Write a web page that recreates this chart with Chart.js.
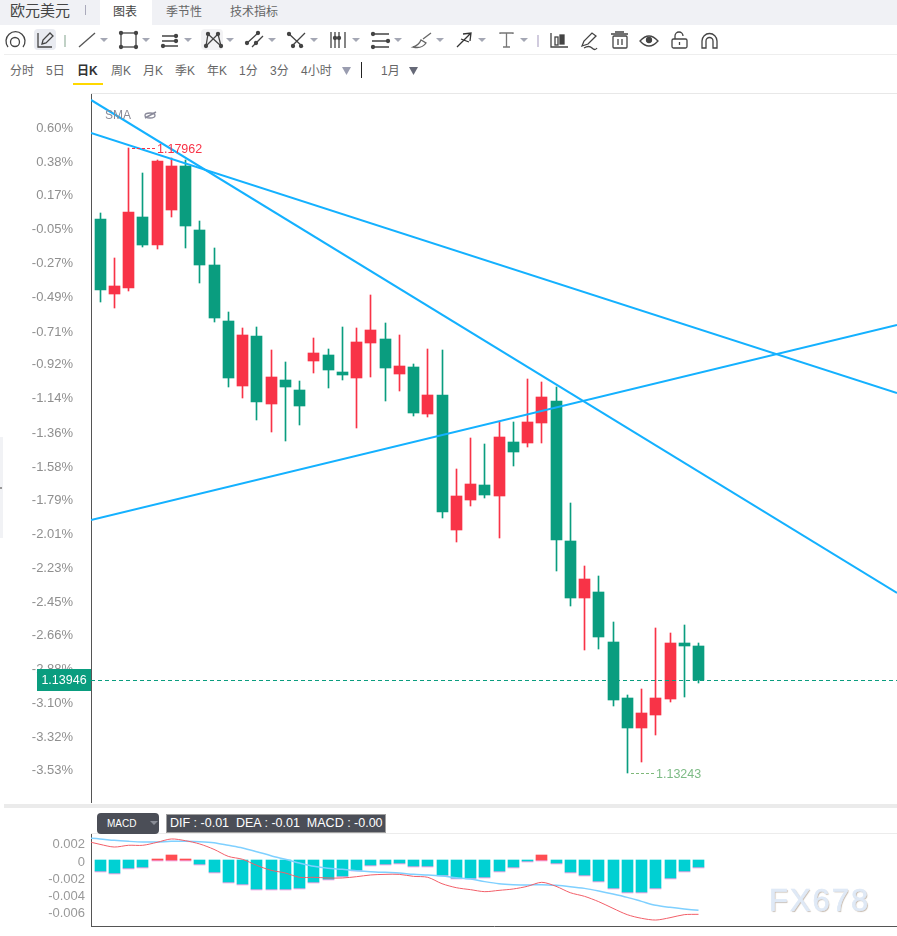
<!DOCTYPE html>
<html>
<head>
<meta charset="utf-8">
<title>欧元美元</title>
<script src="https://cdn.jsdelivr.net/npm/chart.js"></script>
<style>
  html, body { margin: 0; padding: 0; background: #fff; }
  body { width: 897px; height: 936px; position: relative; overflow: hidden; font-family: "Liberation Sans", "Noto Sans CJK SC", sans-serif; color: #666; }
  canvas { position: absolute; left: 0; display: block; }
  .abs { position: absolute; white-space: nowrap; }
  #topbar { position: absolute; left: 0; top: 0; width: 897px; height: 25px; background: #f0f1f5; }
  #tab-active { position: absolute; left: 100px; top: 0; width: 52px; height: 25px; background: #fff; }
  .tab { font-size: 12px; line-height: 25px; top: 0; color: #666; }
  .period { font-size: 12px; line-height: 16px; top: 63px; color: #666; }
  #chip { left: 97px; top: 813px; width: 62px; height: 21px; background: #4b4e57; border-radius: 4px; color: #fff; font-size: 10px; line-height: 21px; text-indent: 10px; }
  #info { left: 166px; top: 814px; width: 218px; height: 17px; background: #4b4e57; border: 1px solid #a0a0a0; color: #fff; font-size: 12.5px; line-height: 17px; text-indent: 3px; white-space: pre; }
  #mark { left: 769px; top: 883px; font: 31px "Liberation Sans", sans-serif; letter-spacing: 2px; color: #dfe9f6; -webkit-text-stroke: 0.7px #dfe9f6; text-shadow: 1px 1px 1px #c4b7aa; }
</style>
</head>
<body>
<div id="topbar"></div>
<div id="tab-active"></div>
<div class="abs" style="left:10px;top:0;font-size:15px;line-height:21px;color:#444">欧元美元</div>
<div class="abs" style="left:85px;top:5px;width:1px;height:10px;background:#aab"></div>
<div class="abs tab" style="left:113px;color:#444">图表</div>
<div class="abs tab" style="left:166px">季节性</div>
<div class="abs tab" style="left:230px">技术指标</div>

<div class="abs" style="left:4px;top:54px;width:893px;height:1px;background:#eee"></div>
<div class="abs" style="left:91px;top:93px;width:806px;height:1px;background:#e8e8e8"></div>

<div class="abs period" style="left:10px">分时</div>
<div class="abs period" style="left:46px">5日</div>
<div class="abs period" style="left:77px;font-weight:bold;color:#333">日K</div>
<div class="abs" style="left:73px;top:83px;width:30px;height:2px;background:#ffd800"></div>
<div class="abs period" style="left:111px">周K</div>
<div class="abs period" style="left:143px">月K</div>
<div class="abs period" style="left:175px">季K</div>
<div class="abs period" style="left:207px">年K</div>
<div class="abs period" style="left:239px">1分</div>
<div class="abs period" style="left:270px">3分</div>
<div class="abs period" style="left:301px">4小时</div>
<div class="abs" style="left:361px;top:62px;width:1px;height:16px;background:#222"></div>
<div class="abs period" style="left:381px">1月</div>

<!-- toolbar icons -->
<svg id="icons" class="abs" style="left:0;top:0" width="897" height="130" fill="none" stroke="#444" stroke-width="1.3">
  <path d="M8 47a9.500 9.500 0 1 1 15 0"/><circle cx="15" cy="42" r="4.500"/>
  <rect x="34" y="29" width="22" height="21" rx="4" fill="#e9ebf1" stroke="none"/>
  <path d="M38 33v14h14M42 44l1-4 7-7 3 3-7 7z"/>
  <path d="M65 35v12" stroke="#9fb8a8"/>
  <path d="M79 47L95 33" stroke="#555"/>
  <rect x="121" y="33" width="15" height="14"/>
  <circle cx="121" cy="33" r="1.500" fill="#444"/><circle cx="136" cy="33" r="1.500" fill="#444"/><circle cx="121" cy="47" r="1.500" fill="#444"/><circle cx="136" cy="47" r="1.500" fill="#444"/>
  <path d="M162 36h16M162 41h16M162 46h16"/>
  <circle cx="176" cy="36" r="1.500" fill="#444"/><circle cx="176" cy="41" r="1.500" fill="#444"/><circle cx="163" cy="46" r="1.500" fill="#444"/>
  <rect x="201" y="29" width="22" height="21" rx="4" fill="#f2f2f4" stroke="none"/>
  <path d="M206 46L208 34 221 46 218 34 206 46"/>
  <circle cx="208" cy="34" r="1.500" fill="#444"/><circle cx="218" cy="34" r="1.500" fill="#444"/><circle cx="206" cy="46" r="1.500" fill="#444"/><circle cx="221" cy="46" r="1.500" fill="#444"/>
  <path d="M246 44L258 33M252 47L263 36"/>
  <circle cx="247" cy="43" r="1.500" fill="#444"/><circle cx="258" cy="33" r="1.500" fill="#444"/><circle cx="256" cy="43" r="1.500" fill="#444"/>
  <path d="M288 33L303 47M292 46L305 33"/>
  <circle cx="289" cy="34" r="1.500" fill="#444"/><circle cx="293" cy="46" r="1.500" fill="#444"/><circle cx="301" cy="46" r="1.500" fill="#444"/>
  <path d="M331 32v16M335 32v16M339 32v16M345 32v16"/>
  <circle cx="335" cy="38" r="1.500" fill="#444"/><circle cx="339" cy="38" r="1.500" fill="#444"/>
  <path d="M372 34h17M372 41h17M372 47h17"/>
  <circle cx="373" cy="34" r="1.500" fill="#444"/><circle cx="373" cy="47" r="1.500" fill="#444"/><circle cx="388" cy="41" r="1.500" fill="#444"/>
  <path d="M413 47q6-2 8-7l5 3q-4 6-13 4zM423 39L431 33" stroke="#666"/>
  <path d="M457 47L471 33M463 34L471 33 470 41M461 39L469 42" stroke="#333"/>
  <path d="M500 34v-1h13v1M506.500 33v14M503 47h7" stroke="#777"/>
  <path d="M538 35v12" stroke="#b9b0cc"/>
  <path d="M551 33v14h17"/><rect x="555" y="37" width="3" height="8"/><rect x="560" y="35" width="4" height="9" fill="#444"/>
  <path d="M582 46l2-5 8-8 4 3-8 8zM584 48q5-3 8 0t5 0"/>
  <path d="M611 34h17M615 32h9M618 39v6M622 39v6"/><rect x="613" y="36" width="14" height="12" rx="1"/>
  <path d="M640 41q9-10 18 0q-9 10-18 0z"/><circle cx="649" cy="40" r="2.500" fill="#444"/>
  <rect x="672" y="39" width="15" height="9" rx="1.500"/><path d="M675 39v-3a4 4 0 0 1 8 0M679.500 42v3"/>
  <path d="M702 48v-7a7.500 7.500 0 0 1 15 0v7h-4v-7a3.500 3.500 0 0 0-7 0v7z"/>
  <ellipse cx="150" cy="115.500" rx="5" ry="2.500" stroke="#8a8a9a"/><path d="M145 118L156 112" stroke="#8a8a9a" stroke-width="1.500"/>
</svg>

<div class="abs" style="left:0;top:437px;width:3px;height:101px;background:#f1f2f5"></div>
<div class="abs" style="left:0;top:487px;width:2px;height:2px;background:#999"></div>

<canvas id="kline" width="897" height="709" style="top:94px"></canvas>
<div class="abs" style="left:105px;top:108px;font-size:12px;line-height:14px;color:#8a8a96">SMA</div>

<div class="abs" style="left:4px;top:804px;width:893px;height:4px;background:#ebebeb"></div>
<div class="abs" style="left:91px;top:833px;width:806px;height:1px;background:#ececec"></div>
<canvas id="macd" width="897" height="93" style="top:834px"></canvas>
<div class="abs" id="chip">MACD</div>
<svg class="abs" style="left:150px;top:821px" width="8" height="5"><path d="M0 0h8L4 4z" fill="#8a8d96"/></svg>
<div class="abs" id="info">DIF : -0.01  DEA : -0.01  MACD : -0.00</div>
<div class="abs" id="mark">FX678</div>

<script>
// Daily candles, oldest first. Red closes above its open, green below.
const opens = [1.17425, 1.16859, 1.16904, 1.17440, 1.17229, 1.17493, 1.17825, 1.17342, 1.17078, 1.16655, 1.16164, 1.16541, 1.16028, 1.16209, 1.16134, 1.16353, 1.16398, 1.16270, 1.16224, 1.16489, 1.16519, 1.16254, 1.16307, 1.15952, 1.16096, 1.15076, 1.15303, 1.15416, 1.15333, 1.15741, 1.15733, 1.15884, 1.16050, 1.14993, 1.14563, 1.14608, 1.14230, 1.13807, 1.13581, 1.13679, 1.13800, 1.14223, 1.14200];
const closes = [1.16889, 1.16919, 1.17478, 1.17229, 1.17863, 1.17825, 1.17372, 1.17078, 1.16677, 1.16224, 1.16549, 1.16043, 1.16232, 1.16156, 1.16013, 1.16413, 1.16285, 1.16247, 1.16496, 1.16587, 1.16300, 1.16315, 1.15960, 1.16096, 1.15212, 1.15333, 1.15424, 1.15341, 1.15779, 1.15665, 1.15892, 1.16081, 1.15001, 1.14563, 1.14704, 1.14268, 1.13792, 1.13581, 1.13694, 1.13807, 1.14223, 1.14200, 1.13946];
const highs  = [1.17470, 1.17131, 1.17962, 1.17773, 1.17871, 1.17886, 1.17871, 1.17410, 1.17206, 1.16723, 1.16602, 1.16609, 1.16436, 1.16345, 1.16202, 1.16526, 1.16443, 1.16609, 1.16602, 1.16851, 1.16640, 1.16549, 1.16330, 1.16443, 1.16436, 1.15537, 1.15771, 1.15726, 1.15892, 1.15892, 1.16217, 1.16194, 1.16156, 1.15280, 1.14804, 1.14729, 1.14381, 1.13830, 1.13875, 1.14336, 1.14298, 1.14359, 1.14223];
const lows   = [1.16798, 1.16753, 1.16881, 1.17214, 1.17199, 1.17440, 1.17206, 1.16942, 1.16647, 1.16156, 1.16073, 1.15907, 1.15816, 1.15748, 1.15869, 1.16262, 1.16149, 1.16209, 1.15847, 1.16232, 1.16050, 1.16126, 1.15937, 1.15930, 1.15167, 1.14986, 1.15257, 1.15318, 1.15016, 1.15560, 1.15703, 1.15733, 1.14766, 1.14502, 1.14170, 1.14177, 1.13747, 1.13243, 1.13324, 1.13528, 1.13777, 1.13815, 1.13921];

// Change against the previous close, shown on the price axis.
const basePrice = 1.17416;
const pctLabels = ['0.60%', '0.38%', '0.17%', '-0.05%', '-0.27%', '-0.49%', '-0.71%', '-0.92%', '-1.14%', '-1.36%', '-1.58%', '-1.79%', '-2.01%', '-2.23%', '-2.45%', '-2.66%', '-2.88%', '-3.10%', '-3.32%', '-3.53%'];

// Hand drawn trend lines: [start price, end price] across the plot.
const trendA = [1.18324, 1.14600];
const trendB = [1.18075, 1.16111];
const trendC = [1.15152, 1.16624];

// MACD pane. First line value sits one bar before the first candle.
const macdTicks = [0.002, 0, -0.002, -0.004, -0.006];
const macdHist = [-0.00127, -0.0015, -0.00092, -0.00081, 0.00012, 0.00058, 0.00012, -0.00046, -0.00139, -0.00254, -0.00277, -0.00335, -0.00335, -0.00335, -0.00324, -0.00254, -0.0022, -0.00185, -0.00116, -0.00058, -0.00046, -0.00035, -0.00069, -0.00069, -0.00173, -0.00208, -0.00208, -0.00197, -0.00127, -0.00081, -0.00012, 0.00058, -0.00035, -0.00139, -0.00173, -0.00243, -0.00324, -0.0037, -0.0037, -0.00324, -0.00208, -0.00127, -0.00081];
const difLine = [0.0022, 0.00181, 0.0015, 0.0017, 0.0017, 0.00204, 0.00243, 0.00223, 0.00185, 0.00123, 0.00042, 0.00008, -0.00062, -0.00119, -0.0015, -0.002, -0.002, -0.00208, -0.00208, -0.00193, -0.00173, -0.00166, -0.00166, -0.00189, -0.002, -0.00274, -0.0032, -0.00343, -0.00366, -0.00351, -0.00335, -0.00304, -0.00258, -0.00304, -0.00378, -0.0042, -0.00482, -0.00559, -0.00632, -0.00674, -0.00694, -0.00667, -0.00632, -0.00628];
const deaLine = [0.00254, 0.00243, 0.00227, 0.00216, 0.00208, 0.00208, 0.00216, 0.00216, 0.00212, 0.002, 0.0017, 0.00139, 0.00096, 0.0005, 0.00008, -0.00035, -0.00073, -0.00096, -0.00108, -0.00123, -0.00135, -0.00143, -0.0015, -0.00166, -0.00173, -0.00185, -0.00204, -0.0022, -0.0025, -0.00274, -0.00285, -0.00289, -0.00285, -0.00293, -0.00308, -0.00328, -0.00358, -0.00393, -0.00432, -0.00478, -0.00524, -0.00547, -0.00566, -0.00582];

const RED = '#f83347';
const GREEN = '#0a9d7f';
const BLUE = '#14b1ff';
const FONT = '"Liberation Sans", sans-serif';
const XMIN = -0.6323;
const XMAX = 55.93;

// toolbar dropdown carets
const caretsLeft = [100, 142, 184, 226, 268, 310, 352, 394, 436, 478, 520];
const icons = document.getElementById('icons');
let carets = caretsLeft.map(x => `<path d="M${x} 38h8l-4 4z" fill="#a4a7b4" stroke="none"/>`).join('');
carets += '<path d="M342 67h9l-4.500 8z" fill="#9a9db0" stroke="none"/><path d="M409 67h9l-4.500 8z" fill="#666977" stroke="none"/>';
icons.insertAdjacentHTML('beforeend', carets);

// Candles, histogram and the last price line land on whole pixels.
const snapBars = {
  id: 'snapBars',
  beforeDatasetsDraw(chart) {
    chart.getSortedVisibleDatasetMetas().forEach(meta => {
      if (meta.type === 'line' && meta._dataset.snapY) {
        meta.data.forEach(el => { el.y = Math.round(el.y) + 0.5; });
      }
      if (meta.type !== 'bar') return;
      meta.data.forEach(el => {
        el.x = Math.floor(el.x) + 0.5;
        el.y = Math.round(el.y);
        el.base = Math.round(el.base);
      });
    });
  }
};

// Highest and lowest price tags plus the last price box.
const priceTags = {
  id: 'priceTags',
  afterDraw(chart) {
    const { ctx, scales: { x, y } } = chart;
    const hi = Math.max(...highs);
    const lo = Math.min(...lows);
    const last = closes[closes.length - 1];

    const tag = (price, idx, color, textColor) => {
      const py = Math.round(y.getPixelForValue(price)) + 0.5;
      const px = Math.floor(x.getPixelForValue(idx));
      ctx.save();
      ctx.strokeStyle = color;
      ctx.setLineDash([3, 2]);
      ctx.beginPath();
      ctx.moveTo(px + 4, py);
      ctx.lineTo(px + 29, py);
      ctx.stroke();
      ctx.setLineDash([]);
      ctx.fillStyle = textColor;
      ctx.font = '12.5px ' + FONT;
      ctx.textAlign = 'left';
      ctx.textBaseline = 'middle';
      ctx.fillText(price.toFixed(5), px + 29, py + 1);
      ctx.restore();
    };
    tag(hi, highs.indexOf(hi), RED, RED);
    tag(lo, lows.indexOf(lo), '#7fb87a', '#7dbb85');

    const boxMid = y.getPixelForValue(last);
    ctx.save();
    ctx.fillStyle = GREEN;
    ctx.fillRect(37, Math.round(boxMid - 11), 54, 22);
    ctx.fillStyle = '#fff';
    ctx.font = '12.5px ' + FONT;
    ctx.textAlign = 'center';
    ctx.textBaseline = 'middle';
    ctx.fillText(last.toFixed(5), 64, boxMid + 1);
    ctx.restore();
  }
};

// Fixed gutter for the left axis, without the extra room Chart.js adds for end labels.
const fixAxis = scale => {
  scale.width = 91;
  scale.paddingTop = 0;
  scale.paddingBottom = 0;
};

const candleColors = opens.map((o, i) => (closes[i] >= o ? RED : GREEN));
const trendSet = pair => ({
  type: 'line',
  data: [{ x: XMIN, y: pair[0] }, { x: XMAX, y: pair[1] }],
  borderColor: BLUE,
  borderWidth: 2,
  pointRadius: 0
});

new Chart(document.getElementById('kline'), {
  type: 'bar',
  data: {
    datasets: [
      trendSet(trendA),
      trendSet(trendB),
      trendSet(trendC),
      {
        type: 'line',
        snapY: true,
        data: [{ x: XMIN, y: closes[closes.length - 1] }, { x: XMAX, y: closes[closes.length - 1] }],
        borderColor: GREEN,
        borderWidth: 1,
        borderDash: [4, 3],
        pointRadius: 0
      },
      {
        data: opens.map((o, i) => ({ x: i, y: [o, closes[i]] })),
        backgroundColor: candleColors,
        barThickness: 11
      },
      {
        data: lows.map((l, i) => ({ x: i, y: [l, highs[i]] })),
        backgroundColor: candleColors,
        barThickness: 1
      }
    ]
  },
  options: {
    responsive: false,
    animation: false,
    layout: { padding: 0 },
    plugins: { legend: { display: false }, tooltip: { enabled: false } },
    datasets: { bar: { grouped: false } },
    scales: {
      x: { type: 'linear', display: false, offset: false, min: XMIN, max: XMAX },
      y: {
        offset: false,
        min: 1.13014,
        max: 1.18369,
        afterFit: fixAxis,
        afterBuildTicks(scale) {
          scale.ticks = pctLabels.map(l => ({ value: basePrice * (1 + parseFloat(l) / 100) }));
        },
        border: { display: true, color: '#555', width: 1 },
        grid: { display: false, drawTicks: false, offset: false },
        ticks: {
          autoSkip: false,
          padding: 18,
          labelOffset: 1.5,
          color: '#8f8f8f',
          font: { family: FONT, size: 13 },
          callback: (value, i) => pctLabels[i]
        }
      }
    }
  },
  plugins: [snapBars, priceTags]
});

new Chart(document.getElementById('macd'), {
  type: 'bar',
  data: {
    datasets: [
      {
        type: 'line',
        data: difLine.map((v, i) => ({ x: i - 1, y: v })),
        borderColor: '#f25f69',
        borderWidth: 1,
        tension: 0.3,
        pointRadius: 0
      },
      {
        type: 'line',
        data: deaLine.map((v, i) => ({ x: i - 1, y: v })),
        borderColor: '#7fd0ff',
        borderWidth: 1.5,
        tension: 0.3,
        pointRadius: 0
      },
      {
        data: macdHist.map((v, i) => ({ x: i, y: v })),
        backgroundColor: macdHist.map(v => (v >= 0 ? '#ff4d52' : '#00d0d3')),
        barThickness: 11
      },
      {
        // thin pink edge under each histogram bar
        data: macdHist.map((v, i) => ({ x: i, y: v >= 0 ? [0, -0.00012] : [v, v - 0.00012] })),
        backgroundColor: '#f3a0e0',
        barThickness: 11
      }
    ]
  },
  options: {
    responsive: false,
    animation: false,
    layout: { padding: { bottom: 1 } },
    plugins: { legend: { display: false }, tooltip: { enabled: false } },
    datasets: { bar: { grouped: false } },
    scales: {
      x: {
        type: 'linear',
        offset: false,
        min: XMIN,
        max: XMAX,
        border: { display: true, color: '#555', width: 1 },
        grid: { display: false, drawTicks: false, offset: false },
        ticks: { display: false }
      },
      y: {
        offset: false,
        min: -0.00763,
        max: 0.003006,
        afterFit: fixAxis,
        afterBuildTicks(scale) {
          scale.ticks = macdTicks.map(v => ({ value: v }));
        },
        border: { display: true, color: '#555', width: 1 },
        grid: { display: false, drawTicks: false, offset: false },
        ticks: {
          autoSkip: false,
          padding: 6,
          labelOffset: 2,
          color: '#999',
          font: { family: FONT, size: 13 },
          callback: (value, i) => String(macdTicks[i])
        }
      }
    }
  },
  plugins: [snapBars]
});
</script>
</body>
</html>
